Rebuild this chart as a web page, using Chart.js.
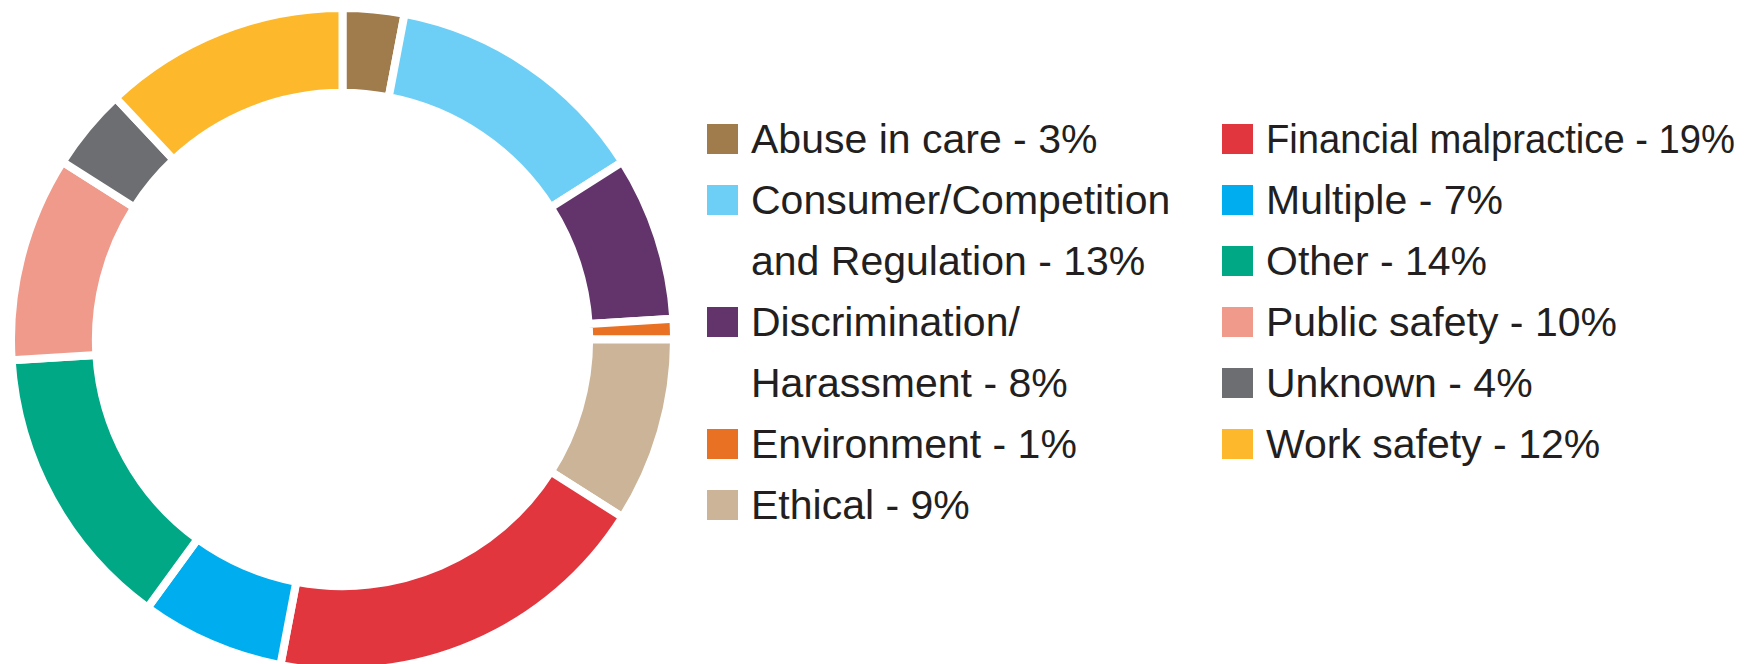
<!DOCTYPE html>
<html>
<head>
<meta charset="utf-8">
<script src="https://cdn.jsdelivr.net/npm/chart.js@4"></script>
<style>
  html, body { margin: 0; padding: 0; background: #fff; }
  body { width: 1751px; height: 664px; overflow: hidden; position: relative;
         font-family: "Liberation Sans", Arial, Helvetica, sans-serif; color: #231f20; }
  #chartBox { position: absolute; left: 7px; top: 4px; width: 671px; height: 671px; }
  .col { position: absolute; top: 109px; font-size: 41px; line-height: 61px; }
  #colLeft { left: 707px; width: 484px; }
  #colRight { left: 1222px; width: 529px; }
  .item { position: relative; padding-left: 44px; }
  .swatch { position: absolute; left: 0; top: 15px; width: 31px; height: 30px; }
  .txt { display: inline-block; white-space: normal; transform-origin: 0 50%; }
  #colRight .txt { white-space: nowrap; }
</style>
</head>
<body>
<div id="chartBox"><canvas id="reportChart"></canvas></div>
<div class="col" id="colLeft"></div>
<div class="col" id="colRight"></div>
<script>
// categories and shares (%), in the order they run clockwise from 12 o'clock
const categories = [
    'Abuse in care',
    'Consumer/Competition and Regulation',
    'Discrimination/Harassment',
    'Environment',
    'Ethical',
    'Financial malpractice',
    'Multiple',
    'Other',
    'Public safety',
    'Unknown',
    'Work safety'
];
const shares = [3, 13, 8, 1, 9, 19, 7, 14, 10, 4, 12];
const colours = [
    '#a07b4c', '#6dcff6', '#62346b', '#e87124', '#cbb497', '#e2363f',
    '#00aeef', '#00a886', '#ef9a8b', '#6d6e71', '#fdb82b'
];
const leftCount = 5; // first five entries go in the left legend column

const canvas = document.getElementById('reportChart');

// legend built from the same arrays
function buildLegend() {
    const left = document.getElementById('colLeft');
    const right = document.getElementById('colRight');
    categories.forEach((name, i) => {
        const item = document.createElement('div');
        item.className = 'item';
        const sw = document.createElement('span');
        sw.className = 'swatch';
        sw.style.background = colours[i];
        const txt = document.createElement('span');
        txt.className = 'txt';
        txt.innerHTML = name.replace('/', '/<wbr>') + ' - ' + shares[i] + '%';
        item.appendChild(sw);
        item.appendChild(txt);
        (i < leftCount ? left : right).appendChild(item);
    });
    // squeeze any right-hand entry that would run off the page
    document.querySelectorAll('#colRight .txt').forEach(t => {
        const w = t.getBoundingClientRect().width;
        if (w > 469) t.style.transform = 'scaleX(' + (469 / w) + ')';
    });
}

const chartConfig = {
    type: 'doughnut',
    data: {
        labels: categories,
        datasets: [{
            data: shares,
            backgroundColor: colours,
            borderColor: '#ffffff',
            borderWidth: 8,
            hoverOffset: 0
        }]
    },
    options: {
        responsive: true,
        maintainAspectRatio: false,
        animation: false,
        cutout: '74.4%',
        rotation: 0,
        layout: { padding: 0 },
        plugins: {
            legend: { display: false },
            tooltip: { enabled: false }
        }
    }
};

buildLegend();
new Chart(canvas, chartConfig);
</script>
</body>
</html>
